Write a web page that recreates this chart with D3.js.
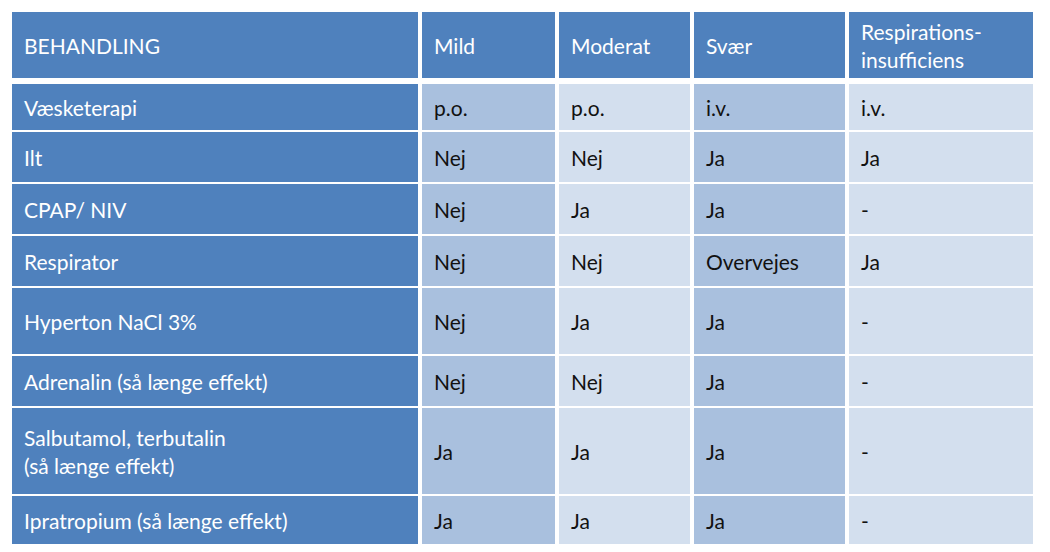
<!DOCTYPE html>
<html><head><meta charset="utf-8">
<script src="https://cdn.jsdelivr.net/npm/d3@7"></script>
<style>body{margin:0;background:#fff}</style>
</head><body><svg id="t" width="1050" height="552"></svg>
<script>
const columns = ["BEHANDLING", "Mild", "Moderat", "Svær", "Respirations-\ninsufficiens"];
const treatments = ["Væsketerapi", "Ilt", "CPAP/ NIV", "Respirator", "Hyperton NaCl 3%",
  "Adrenalin (så længe effekt)", "Salbutamol, terbutalin\n(så længe effekt)", "Ipratropium (så længe effekt)"];
const mild = ["p.o.", "Nej", "Nej", "Nej", "Nej", "Nej", "Ja", "Ja"];
const moderat = ["p.o.", "Nej", "Ja", "Nej", "Ja", "Nej", "Ja", "Ja"];
const svaer = ["i.v.", "Ja", "Ja", "Overvejes", "Ja", "Ja", "Ja", "Ja"];
const resp = ["i.v.", "Ja", "-", "Ja", "-", "-", "-", "-"];
const rowEdges = [12, 80, 132, 184, 236, 288, 356, 408, 496, 546];
const colEdges = [12, 420, 557, 692, 847, 1035];

const svg = d3.select("#t");
const rows = [columns].concat(treatments.map((t, i) => [t, mild[i], moderat[i], svaer[i], resp[i]]));
const gap = 4;
const fill = (r, c) => r === 0 || c === 0 ? "#4f81bd" : (c % 2 === 1 ? "#a9c0de" : "#d3dfee");

rows.forEach((row, r) => {
  const y0 = rowEdges[r] + (r === 1 ? 4 : 0), y1 = rowEdges[r + 1] - gap / 2;
  row.forEach((txt, c) => {
    const x0 = colEdges[c] + (c ? gap / 2 : 0), x1 = colEdges[c + 1] - gap / 2;
    svg.append("rect").attr("x", x0).attr("y", y0).attr("width", x1 - x0).attr("height", y1 - y0)
      .attr("fill", fill(r, c));
    const lines = txt.split("\n");
    const t = svg.append("text").attr("x", x0 + 12)
      .attr("y", (y0 + y1) / 2 - (lines.length - 1) * 14)
      .attr("dominant-baseline", "central")
      .attr("font-family", "Lato, 'Open Sans', sans-serif").attr("font-size", 21)
      .attr("fill", r === 0 || c === 0 ? "#fff" : "#111");
    lines.forEach((l, k) => t.append("tspan").attr("x", x0 + 12).attr("dy", k ? 28 : 0).text(l));
  });
});
</script></body></html>
